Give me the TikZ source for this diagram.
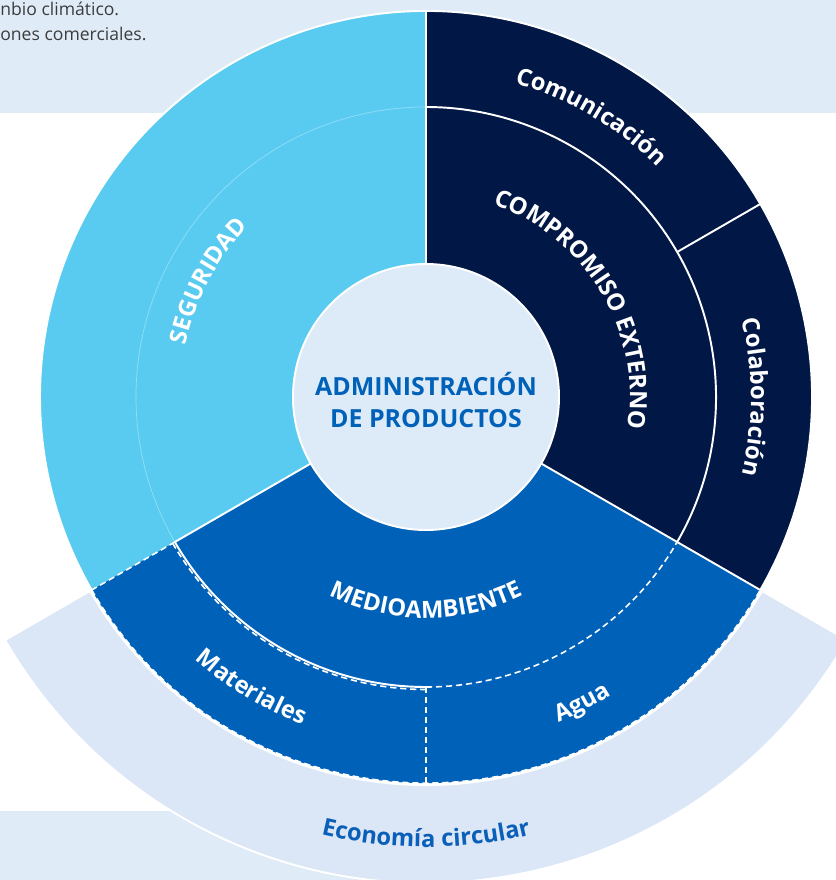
\documentclass[tikz,border=0pt]{standalone}
\usepackage{fontspec}
\setmainfont{Open Sans}
\usetikzlibrary{decorations.text}

\definecolor{panel}{HTML}{DFECF8}
\definecolor{note}{HTML}{3C3C3C}
\definecolor{seguridad}{HTML}{59CBF1}
\definecolor{compromiso}{HTML}{011745}
\definecolor{medio}{HTML}{0061B9}
\definecolor{hub}{HTML}{DDEBF8}
\definecolor{circular}{HTML}{DBE6F6}
\definecolor{circtext}{HTML}{0A5FB8}

\def\ringsector[#1](#2:#3:#4:#5){\fill[#1] (#2:#4) arc (#2:#3:#4) -- (#3:#5) arc (#3:#2:#5) -- cycle;}
\def\arclabel[#1](#2:#3:#4)#5{\path[decorate,decoration={text along path,text align=center,text color=white,#1,text={#5}}] (#2:#4) arc (#2:#3:#4);}
\newcommand\ringfont{\fontsize{13.5}{16}\selectfont\bfseries}

\tikzset{
  sepline/.style={white, line width=1.1pt},
  faintline/.style={white, opacity=0.35, line width=0.4pt},
  dashline/.style={white, line width=0.9pt, dash pattern=on 3.5pt off 2.2pt},
  notetext/.style={anchor=base west, inner sep=0pt, text=note, font=\fontsize{10}{12}\selectfont},
  hubtext/.style={align=center, text=medio, font=\fontsize{14.2}{18.2}\selectfont\bfseries}
}

\begin{document}
\begin{tikzpicture}[x=0.02cm,y=0.02cm]
			%%%%% PANELS %%%%%
			\useasboundingbox (-426,-483) rectangle (410,397);
			\fill[panel] (-426,284) rectangle (410,397);
			\fill[panel] (-426,-483) rectangle (0,-414);
			\node[notetext] (climate) at (-426,382) {nbio climático.};
			\node[notetext] (trade) at (-426,357) {ones comerciales.};
			
			%%%%% BAND %%%%%
			\ringsector[circular,draw=white,line width=1.1pt](210:330:388:486)
			
			%%%%% SECTORS %%%%%
			\ringsector[seguridad](90:210:133:386)
			\ringsector[compromiso](-30:90:133:386)
			\ringsector[medio](210:330:133:386)
			
			\draw[sepline] (-30:386) arc (-30:210:386);
			\draw[sepline] (90:133) -- (90:386);
			\draw[sepline] (210:133) -- (210:290);
			\draw[sepline] (330:133) -- (330:386);
			\draw[sepline] (30:290) -- (30:386);
			\draw[sepline] (-30:290) arc (-30:90:290);
			\draw[sepline] (210:290) arc (210:270:290);
			\draw[faintline] (90:290) arc (90:210:290);
			
			\draw[dashline] (210:290) -- (210:386);
			\draw[dashline] (270:290) -- (270:386);
			\draw[dashline] (210:386) arc (210:330:386);
			\draw[dashline] (270:290) arc (270:330:290);
			\draw[dashline] (210:292.5) arc (210:270:292.5);
			
			%%%%% HUB %%%%%
			\fill[hub,draw=white,line width=1.1pt] (0,0) circle (133);
			\node[hubtext] (hub) at (0,-3) {ADMINISTRACIÓN\\DE PRODUCTOS};
			
			%%%%% LABELS %%%%%
			\arclabel[](212:92:246){|\ringfont|SEGURIDAD}
			\arclabel[](92:-30:204){|\ringfont|COMPROMISO EXTERNO}
			\arclabel[](210:330:221){|\ringfont|MEDIOAMBIENTE}
			\arclabel[](90:29:326){|\ringfont|Comunicación}
			\arclabel[](30:-30:325){|\ringfont|Colaboración}
			\arclabel[](210:268:350){|\ringfont|Materiales}
			\arclabel[](266:328:351){|\ringfont|Agua}
			\arclabel[text color=circtext](210:330:450){|\ringfont|Economía circular}
			
			%%%%% END %%%%%
\end{tikzpicture}
\end{document}
